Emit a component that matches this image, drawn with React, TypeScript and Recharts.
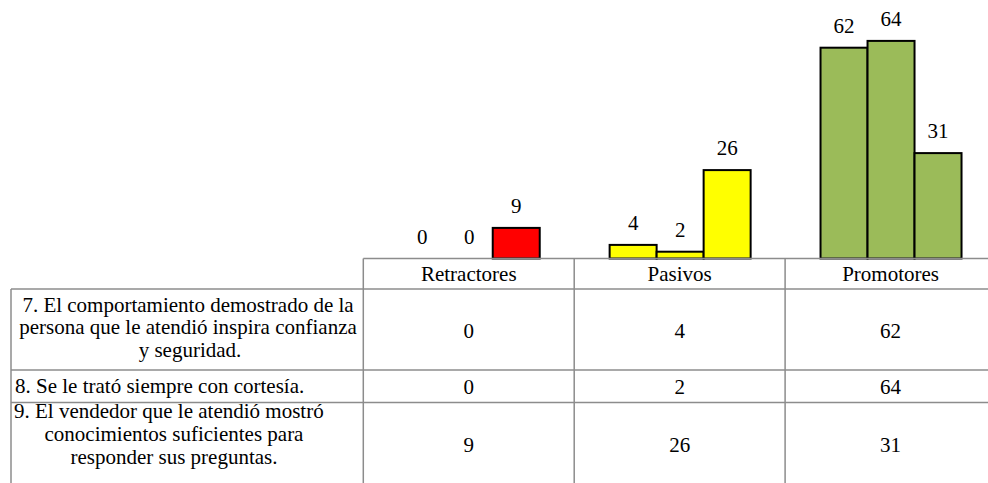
import { BarChart, Bar, XAxis, YAxis, Cell } from "recharts";

// categories, per-question counts and row labels of the data table
const categories = ["Retractores", "Pasivos", "Promotores"];
const categoryColors = ["#FF0000", "#FFFF00", "#9BBB59"];

const p7 = [0, 4, 62];
const p8 = [0, 2, 64];
const p9 = [9, 26, 31];

const questionLines = [
  ["7. El comportamiento demostrado de la", "persona que le atendió inspira confianza", "y seguridad."],
  ["8. Se le trató siempre con cortesía."],
  ["9. El vendedor que le atendió mostró", "conocimientos suficientes para", "responder sus preguntas."],
];

const seriesKeys = ["p7", "p8", "p9"];
const seriesValues = [p7, p8, p9];

const data = categories.map((name, i) => ({ name, p7: p7[i], p8: p8[i], p9: p9[i] }));

const W = 996;
const H = 483;
const PLOT_LEFT = 363.3;
const PLOT_TOP = 20.5;
const AXIS_H = 224.5;
const BAND = (W - PLOT_LEFT) / categories.length;
const TABLE_LEFT = 11;
const GRID = "#8c8c8c";
const FONT = '"Liberation Serif", "Times New Roman", Times, serif';

// row layout of the table, offsets below the category axis
const rowTops = [30.5, 111.5, 144];
const valueDy = [79, 135.5, 193];
const labelDy = [
  [53, 75.5, 98],
  [134.5],
  [159.5, 182.5, 205.5],
];
type Anchor = { x: number; anchor: "middle" | "start" };
const labelAnchor: Anchor[][] = [
  [
    { x: 188, anchor: "middle" },
    { x: 188, anchor: "middle" },
    { x: 190, anchor: "middle" },
  ],
  [{ x: 15, anchor: "start" }],
  [
    { x: 14, anchor: "start" },
    { x: 174, anchor: "middle" },
    { x: 174, anchor: "middle" },
  ],
];

const textStyle = { fontFamily: FONT, fontSize: 21 };

function QuestionColumn({ y, right }: { y: number; right: number }) {
  return (
    <g>
      <line x1={TABLE_LEFT} x2={TABLE_LEFT} y1={y + rowTops[0]} y2={H} stroke={GRID} strokeWidth={1.5} />
      {rowTops.map((t) => (
        <line key={t} x1={TABLE_LEFT} x2={right} y1={y + t} y2={y + t} stroke={GRID} strokeWidth={1.5} />
      ))}
      {questionLines.map((lines, r) =>
        lines.map((line, k) => (
          <text
            key={`${r}-${k}`}
            x={labelAnchor[r][k].x}
            y={y + labelDy[r][k]}
            textAnchor={labelAnchor[r][k].anchor}
            fill="#000"
            style={textStyle}
          >
            {line}
          </text>
        ))
      )}
    </g>
  );
}

const TableTick = (props: any) => {
  const { x, y, payload } = props;
  const i = categories.indexOf(payload.value);
  const half = BAND / 2;
  return (
    <g>
      <line x1={x - half} x2={x - half} y1={y} y2={H} stroke={GRID} strokeWidth={1.5} />
      {i === categories.length - 1 && (
        <line x1={x + half} x2={x + half} y1={y} y2={H} stroke={GRID} strokeWidth={1.5} />
      )}
      {rowTops.map((t) => (
        <line key={t} x1={x - half} x2={x + half} y1={y + t} y2={y + t} stroke={GRID} strokeWidth={1.5} />
      ))}
      <text x={x} y={y + 22} textAnchor="middle" fill="#000" style={textStyle}>
        {payload.value}
      </text>
      {seriesValues.map((vals, r) => (
        <text key={r} x={x} y={y + valueDy[r]} textAnchor="middle" fill="#000" style={textStyle}>
          {vals[i]}
        </text>
      ))}
      {i === 0 && <QuestionColumn y={y} right={x - half} />}
    </g>
  );
};

// bar with its value written above it (zero values keep their label)
const makeBarShape = (key: string) => (props: any) => {
  const { x, y, width, height, fill, payload } = props;
  const value = payload[key];
  return (
    <g>
      {height > 0 && <rect x={x} y={y} width={width} height={height} fill={fill} stroke="#000" strokeWidth={2} />}
      <text x={x + width / 2} y={y - 15} textAnchor="middle" fill="#000" style={textStyle}>
        {value}
      </text>
    </g>
  );
};

export default function App() {
  return (
    <div
      style={{
        position: "absolute",
        left: 0,
        top: 0,
        width: 988,
        height: H,
        overflow: "hidden",
        background: "#fff",
        fontFamily: FONT,
      }}
    >
      <BarChart
        width={W}
        height={H}
        data={data}
        margin={{ top: PLOT_TOP, right: 0, left: PLOT_LEFT, bottom: 0 }}
        barCategoryGap="16.8%"
        barGap={0}
      >
        <YAxis hide domain={[0, 70]} />
        <XAxis
          dataKey="name"
          height={AXIS_H}
          interval={0}
          axisLine={{ stroke: GRID, strokeWidth: 1.5 }}
          tickLine={false}
          tickSize={0}
          tickMargin={0}
          tick={TableTick}
        />
        {seriesKeys.map((key) => (
          <Bar key={key} dataKey={key} isAnimationActive={false} shape={makeBarShape(key)}>
            {data.map((d, i) => (
              <Cell key={d.name} fill={categoryColors[i]} />
            ))}
          </Bar>
        ))}
      </BarChart>
    </div>
  );
}
